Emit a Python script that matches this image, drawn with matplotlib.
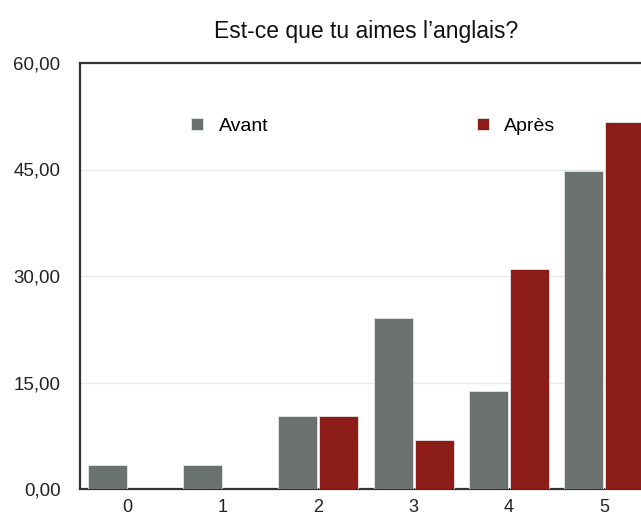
import matplotlib.pyplot as plt
import numpy as np

plt.rcParams['font.family'] = ['Liberation Sans', 'DejaVu Sans']

# Daten
categories = ['0', '1', '2', '3', '4', '5']
avant = [3.45, 3.45, 10.34, 24.14, 13.79, 44.83]
apres = [0.0, 0.0, 10.34, 6.90, 31.03, 51.72]
yticks = [0, 15, 30, 45, 60]

GRAY = '#6b716e'
RED = '#8b1c17'

fig = plt.figure(figsize=(6.41, 5.17), dpi=100)
ax = fig.add_axes([80 / 641, 28 / 517, 572 / 641, 426 / 517])

x = np.arange(len(categories))
w = 0.41
ax.bar(x - w / 2 - 0.01, avant, w, color=GRAY, edgecolor='#e6e6e6', linewidth=0.6, label='Avant', zorder=3)
ax.bar(x + w / 2 + 0.01, apres, w, color=RED, edgecolor='#e6e6e6', linewidth=0.6, label='Après', zorder=3)

ax.set_xlim(-0.5, 5.5)
ax.set_ylim(0, 60)
ax.set_xticks(x)
ax.set_xticklabels(categories)
ax.set_yticks(yticks)
ax.set_yticklabels([f'{v:.2f}'.replace('.', ',') for v in yticks])
ax.tick_params(length=0, labelsize=13.5, colors='#222222')
ax.tick_params(axis='y', pad=14)
ax.tick_params(axis='x', pad=7, labelsize=13)
ax.yaxis.grid(True, color='#e8e8e8', linewidth=1, zorder=0)

for side in ['left', 'top', 'bottom', 'right']:
    ax.spines[side].set_color('#333333')
    ax.spines[side].set_linewidth(1.6)

ax.set_title("Est-ce que tu aimes l’anglais?", fontsize=16.5, pad=18, color='#111111')

ax.legend(loc='lower left', bbox_to_anchor=(0.164, 0.79, 0.698, 0.1), mode='expand',
          ncol=2, frameon=False, fontsize=14, handlelength=0.6, handleheight=0.6,
          handletextpad=0.8)

fig.savefig('out.png', dpi=100)
